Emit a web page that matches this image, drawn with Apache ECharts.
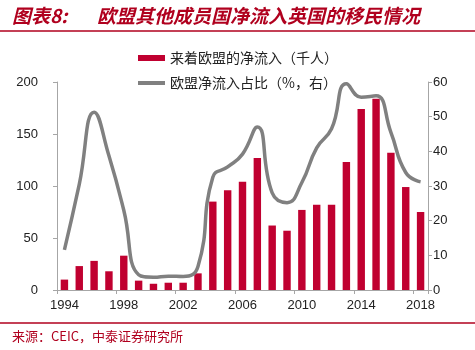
<!DOCTYPE html>
<html>
<head>
<meta charset="utf-8">
<script src="https://cdn.jsdelivr.net/npm/echarts@6/dist/echarts.min.js"></script>
<style>
  html, body { margin: 0; padding: 0; background: #fff; }
  #chart { width: 475px; height: 350px; }
</style>
</head>
<body>
<div id="chart"></div>
<script>
const years = ['1994', '1995', '1996', '1997', '1998', '1999', '2000', '2001', '2002', '2003', '2004', '2005', '2006',
  '2007', '2008', '2009', '2010', '2011', '2012', '2013', '2014', '2015', '2016', '2017', '2018']

// 来着欧盟的净流入（千人）
const inflow = [10, 23, 28, 18, 33, 9, 6, 7, 7, 16, 85, 96, 104, 127, 62, 57, 77, 82, 82, 123, 174, 184, 132, 99, 75]

// 欧盟净流入占比（%，右）
const share = [11.6, 30.5, 51.3, 38.7, 23, 4.4, 3.7, 4, 3.9, 6.8, 32.5, 35.5, 39.2, 47, 28, 25.2, 31, 41, 46.5, 59.5, 55.6, 56, 45.5, 33.9, 31.2]

const barName = '来着欧盟的净流入（千人）'
const lineName = '欧盟净流入占比（%，右）'

const red = '#C00030'
const grey = '#808080'
const axisGrey = '#A6A6A6'
const titleRed = '#B0001E'
const numFont = 'Liberation Sans'
const cjkFont = 'Noto Sans CJK SC'

const chart = echarts.init(document.getElementById('chart'))

const legendText = {
  color: '#222',
  fontSize: 14,
  fontFamily: cjkFont
}

const option = {
  animation: false,
  textStyle: { fontFamily: numFont },
  grid: {
    left: 57,
    right: 47,
    top: 82,
    bottom: 60
  },
  legend: [
    {
      left: 133,
      top: 46,
      itemWidth: 27,
      itemHeight: 6,
      textStyle: legendText,
      data: [{ name: barName, icon: 'rect' }]
    },
    {
      left: 133,
      top: 71,
      itemWidth: 27,
      itemHeight: 4,
      textStyle: legendText,
      data: [{ name: lineName, icon: 'rect', itemStyle: { color: grey } }]
    }
  ],
  xAxis: {
    type: 'category',
    data: years,
    axisLine: { lineStyle: { color: axisGrey, width: 1 } },
    axisTick: { show: true, interval: 3, length: 4, lineStyle: { color: axisGrey } },
    axisLabel: { interval: 3, color: '#222', fontSize: 13, margin: 9 }
  },
  yAxis: [
    {
      type: 'value',
      min: 0,
      max: 200,
      interval: 50,
      splitLine: { show: false },
      axisLine: { show: true, lineStyle: { color: axisGrey } },
      axisTick: { show: true, length: 4, lineStyle: { color: axisGrey } },
      axisLabel: { color: '#222', fontSize: 13, margin: 19 }
    },
    {
      type: 'value',
      min: 0,
      max: 60,
      interval: 10,
      splitLine: { show: false },
      axisLine: { show: true, lineStyle: { color: axisGrey } },
      axisTick: { show: true, length: 4, lineStyle: { color: axisGrey } },
      axisLabel: { color: '#222', fontSize: 13, margin: 5 }
    }
  ],
  series: [
    {
      name: barName,
      type: 'bar',
      data: inflow,
      barWidth: '50%',
      itemStyle: { color: red }
    },
    {
      name: lineName,
      type: 'line',
      yAxisIndex: 1,
      data: share,
      smooth: true,
      symbol: 'none',
      lineStyle: { color: grey, width: 3.5 },
      itemStyle: { color: grey }
    }
  ],
  graphic: [
    {
      type: 'text',
      left: 12,
      top: 6,
      style: {
        text: '图表8:',
        fill: titleRed,
        font: 'italic bold 19px "Noto Sans CJK SC"'
      }
    },
    {
      type: 'text',
      left: 97,
      top: 6,
      style: {
        text: '欧盟其他成员国净流入英国的移民情况',
        fill: titleRed,
        font: 'italic bold 19px "Noto Sans CJK SC"'
      }
    },
    {
      type: 'line',
      shape: { x1: 0, y1: 31, x2: 475, y2: 31 },
      style: { stroke: titleRed, lineWidth: 1.5 }
    },
    {
      type: 'line',
      shape: { x1: 0, y1: 323, x2: 475, y2: 323 },
      style: { stroke: titleRed, lineWidth: 1.5 }
    },
    {
      type: 'text',
      left: 12,
      top: 330,
      style: {
        text: '来源：CEIC，中泰证券研究所',
        fill: titleRed,
        font: '13px "Noto Sans CJK SC"'
      }
    }
  ]
}

chart.setOption(option)
</script>
</body>
</html>
